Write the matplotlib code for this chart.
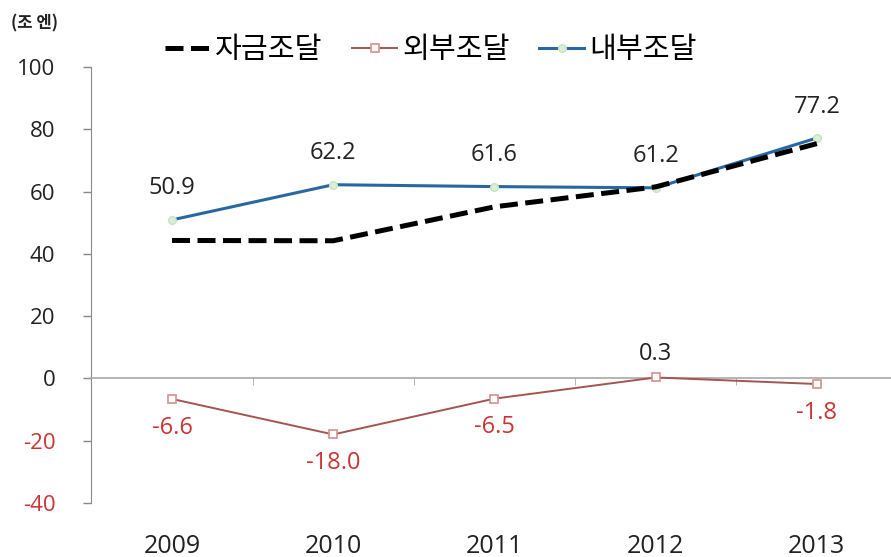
import matplotlib
matplotlib.use('Agg')
import matplotlib.pyplot as plt
from matplotlib.ticker import FixedLocator

plt.rcParams['font.family'] = ['Open Sans', 'Noto Sans CJK KR', 'DejaVu Sans']

years = ['2009', '2010', '2011', '2012', '2013']
internal = [50.9, 62.2, 61.6, 61.2, 77.2]
external = [-6.6, -18.0, -6.5, 0.3, -1.8]
total = [i + e for i, e in zip(internal, external)]
yticks = [-40, -20, 0, 20, 40, 60, 80, 100]

BLUE = '#2868a0'
BROWN = '#a5544f'
RED = '#cc3333'
INK = '#222222'
KR = ['Noto Sans CJK KR', 'DejaVu Sans']

fig = plt.figure(figsize=(8.91, 5.57), dpi=100)
ax = fig.add_axes([0.1026, 0.097, 0.8974, 0.7827])
x = list(range(len(years)))

ax.plot(x, internal, color=BLUE, lw=2.2, marker='o', ms=5.5,
        mfc='#dcefd6', mec='#c6e3bf', mew=1, zorder=3, label='내부조달')
ax.plot(x, external, color=BROWN, lw=1.4, marker='s', ms=6,
        mfc='white', mec='#d49090', mew=1.2, zorder=3, label='외부조달')
ax.plot(x, total, color='black', lw=3.6, dashes=(3.6, 1.5), zorder=4,
        label='자금조달')

for xi, v in zip(x, internal):
    ax.annotate(f'{v:.1f}', (xi, v), xytext=(0, 14), textcoords='offset points',
                ha='center', va='bottom', fontsize=17, color=INK)
for xi, v in zip(x, external):
    if v >= 0:
        ax.annotate(f'{v:.1f}', (xi, v), xytext=(0, 8), textcoords='offset points',
                    ha='center', va='bottom', fontsize=17, color=INK)
    else:
        ax.annotate(f'{v:.1f}', (xi, v), xytext=(0, -12), textcoords='offset points',
                    ha='center', va='top', fontsize=17, color=RED)

ax.set_xlim(-0.5, 4.46)
ax.set_ylim(-40, 100)
ax.set_yticks(yticks)
ax.set_yticklabels([str(t) for t in yticks])
for lab, t in zip(ax.get_yticklabels(), yticks):
    lab.set_color(RED if t < 0 else INK)
ax.tick_params(axis='y', labelsize=16, length=6, width=1, color='#888888', pad=20)

# category axis sits on the zero line, year labels go along the bottom edge
for side in ('top', 'right'):
    ax.spines[side].set_visible(False)
ax.spines['left'].set_color('#8a8a8a')
ax.spines['bottom'].set_position(('data', 0))
ax.spines['bottom'].set_color('#a8a8a8')
ax.spines['bottom'].set_linewidth(1.2)
ax.xaxis.set_major_locator(FixedLocator([]))
ax.xaxis.set_minor_locator(FixedLocator([k + 0.5 for k in x[:-1]]))
ax.tick_params(axis='x', which='minor', length=5, color='#a8a8a8', direction='out')

sec = ax.secondary_xaxis('bottom')
sec.set_xticks(x)
sec.set_xticklabels(years)
sec.tick_params(length=0, labelsize=18, labelcolor=INK, pad=22)
sec.spines['bottom'].set_visible(False)

handles, labels = ax.get_legend_handles_labels()
order = [2, 1, 0]
fig.legend([handles[i] for i in order], [labels[i] for i in order],
           loc='center left', bbox_to_anchor=(0.185, 0.91), ncol=3, frameon=False,
           prop={'family': KR, 'size': 21}, handlelength=1.55,
           handletextpad=0.18, columnspacing=1.0, borderaxespad=0, borderpad=0)

fig.text(0.012, 0.958, '(조 엔)', fontsize=12, fontweight='bold', color=INK,
         family=KR, ha='left', va='center')

fig.savefig('out.png', dpi=100)
